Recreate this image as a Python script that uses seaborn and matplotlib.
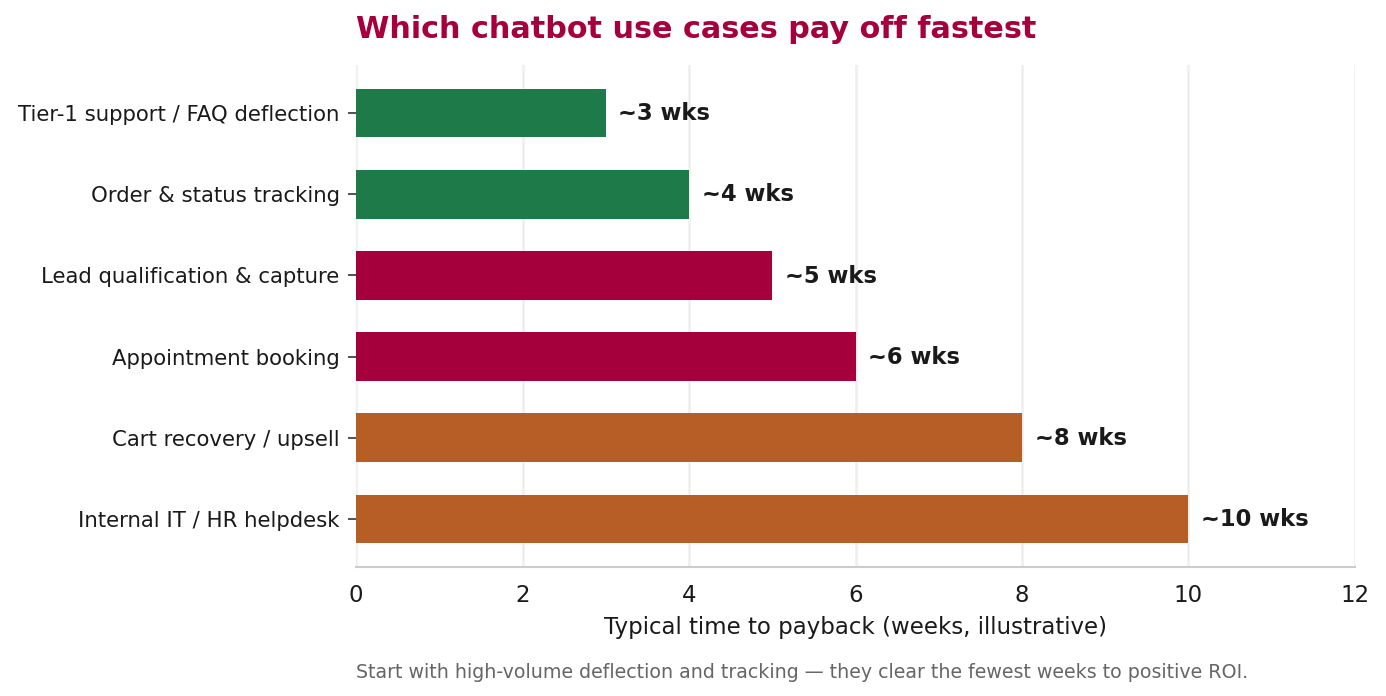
import pandas as pd
import seaborn as sns
import matplotlib.pyplot as plt

use_cases = [
    'Tier-1 support / FAQ deflection',
    'Order & status tracking',
    'Lead qualification & capture',
    'Appointment booking',
    'Cart recovery / upsell',
    'Internal IT / HR helpdesk',
]
weeks = [3, 4, 5, 6, 8, 10]
value_labels = ['~3 wks', '~4 wks', '~5 wks', '~6 wks', '~8 wks', '~10 wks']
groups = ['fast', 'fast', 'mid', 'mid', 'slow', 'slow']

palette = {'fast': '#1f7a4a', 'mid': '#a6003c', 'slow': '#b75e27'}

df = pd.DataFrame({'use_case': use_cases, 'weeks': weeks, 'group': groups})

sns.set_style('white')
plt.rcParams['font.family'] = ['DejaVu Sans']

fig = plt.figure(figsize=(13.86, 6.96), dpi=100)
ax = fig.add_axes([0.257, 0.1853, 0.7206, 0.7213])

sns.barplot(df, x='weeks', y='use_case', hue='group', palette=palette,
            orient='h', width=0.6, dodge=False, legend=False, ax=ax,
            saturation=1, linewidth=0, zorder=2)

for i, (w, lab) in enumerate(zip(weeks, value_labels)):
    ax.text(w + 0.15, i + 0.01, lab, va='center', ha='left', fontsize=16.3,
            fontweight='bold', color='#1a1a1a')

ax.set_xlim(0, 12)
ax.set_ylim(5.59, -0.59)
ax.set_xticks(range(0, 13, 2))
ax.grid(axis='x', color='#eeeeee', linewidth=1.8, zorder=0)
ax.set_axisbelow(True)

for s in ['top', 'right', 'left']:
    ax.spines[s].set_visible(False)
ax.spines['bottom'].set_color('#cccccc')
ax.spines['bottom'].set_linewidth(1.5)

ax.tick_params(axis='x', labelsize=16.5, length=6, width=1.2, color='#555555',
               labelcolor='#1a1a1a', pad=6)
ax.tick_params(axis='y', labelsize=15.3, length=6, width=1.2, color='#333333',
               labelcolor='#1a1a1a', pad=6, left=True)

ax.set_xlabel('Typical time to payback (weeks, illustrative)', fontsize=16.5,
              color='#1a1a1a', labelpad=7)
ax.set_ylabel('')

fig.text(0.257, 0.958, 'Which chatbot use cases pay off fastest', fontsize=21.8,
         fontweight='bold', color='#a6003c', ha='left', va='center')
fig.text(0.257, 0.034, 'Start with high-volume deflection and tracking \u2014 they clear the fewest weeks to positive ROI.',
         fontsize=13.7, color='#666666', ha='left', va='center')

fig.savefig('out.png', dpi=100)
